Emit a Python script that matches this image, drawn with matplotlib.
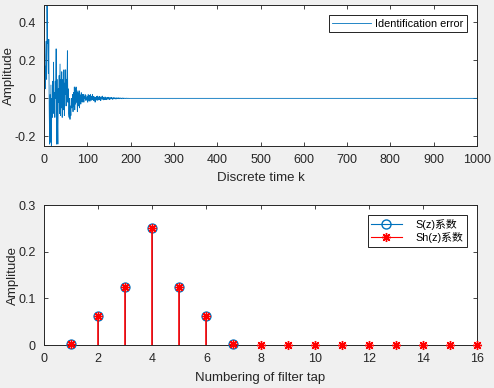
import matplotlib
matplotlib.use("Agg")
import matplotlib.pyplot as plt
import numpy as np
from matplotlib.legend_handler import HandlerLine2D
from matplotlib.lines import Line2D

plt.rcParams["font.family"] = ["Liberation Sans", "Noto Sans CJK SC", "DejaVu Sans"]

# identification error, k = 0..199; flat afterwards
err_head = [
    0.00, 0.06, 0.17, 0.05, 0.22, 0.30, 0.10, 0.49, 0.29, 0.30,
    0.13, 0.31, -0.05, -0.24, 0.02, -0.23, 0.07, -0.25, 0.00, -0.10,
    0.09, -0.08, 0.19, -0.05, 0.03, -0.10, 0.09, 0.00, 0.26, -0.24,
    0.10, -0.10, -0.24, 0.05, -0.02, 0.12, -0.08, 0.18, -0.09, 0.10,
    -0.05, 0.14, -0.10, 0.06, 0.10, -0.06, 0.15, -0.09, 0.08, 0.02,
    0.15, -0.04, 0.10, 0.02, 0.25, -0.02, 0.05, -0.08, -0.10, 0.00,
    -0.11, -0.04, -0.09, 0.00, -0.05, -0.03, 0.02, -0.07, 0.03, -0.04,
    0.06, -0.06, 0.05, -0.03, 0.06, -0.02, 0.04, -0.07, 0.03, 0.01,
    -0.04, 0.04, -0.05, 0.02, 0.00, -0.03, 0.03, 0.01, -0.02, 0.02,
    -0.01, 0.02, -0.02, 0.01, 0.00, 0.02, -0.01, 0.015, -0.01, 0.00,
    0.01, -0.02, 0.02, -0.01, 0.005, 0.015, -0.015, 0.02, 0.00, -0.01,
    0.012, -0.008, 0.02, -0.005, 0.01, -0.012, 0.005, 0.008, -0.02, 0.004,
    -0.01, 0.01, -0.005, 0.012, -0.01, 0.004, 0.008, -0.008, 0.01, -0.004,
    0.006, -0.012, 0.01, 0.002, -0.006, 0.012, -0.004, 0.006, -0.008, 0.003,
    -0.005, 0.008, -0.006, 0.004, 0.002, -0.007, 0.005, -0.003, 0.006, -0.004,
    0.003, -0.006, 0.004, 0.002, -0.004, 0.005, -0.002, 0.003, -0.005, 0.002,
    -0.003, 0.004, -0.002, 0.003, -0.001, 0.002, -0.004, 0.003, -0.002, 0.001,
    0.002, -0.002, 0.003, -0.001, 0.002, -0.002, 0.001, 0.002, -0.001, 0.001,
    -0.002, 0.001, 0.002, -0.001, 0.001, -0.001, 0.001, 0.000, -0.001, 0.001,
    0.000, 0.001, -0.001, 0.000, 0.001, 0.000, -0.001, 0.000, 0.000, 0.000,
]
err_tail = [0.0] * 801

s_taps = [1, 2, 3, 4, 5, 6, 7]
s_coef = [0.003, 0.0625, 0.125, 0.25, 0.125, 0.0625, 0.003]
sh_taps = list(range(1, 17))
sh_coef = [0.003, 0.0625, 0.125, 0.25, 0.125, 0.0625, 0.003,
           0.0, 0.0, 0.0, 0.0, 0.0, 0.0, 0.0, 0.0, 0.0]

BLUE = "#0072BD"
RED = "#FF0000"
AX_COL = "#262626"
ASTERISK = (8, 2, 0)


class EndMarkerHandler(HandlerLine2D):
    """Legend entry with the marker at the right end, like MATLAB."""

    def get_xdata(self, legend, xdescent, ydescent, width, height, fontsize):
        xdata = np.array([-xdescent, width - xdescent])
        return xdata, np.array([width - xdescent])


def style_axes(ax):
    ax.tick_params(direction="in", length=3, width=0.6, top=True, right=True,
                   labelsize=9, colors=AX_COL, pad=6)
    for sp in ax.spines.values():
        sp.set_color(AX_COL)
        sp.set_linewidth(0.7)


fig = plt.figure(figsize=(4.94, 3.88), dpi=100, facecolor="#F0F0F0")

# top: identification error
ax1 = fig.add_axes([0.0891, 0.6237, 0.8765, 0.3634])
err = np.array(err_head + err_tail)
k = np.arange(len(err))
ax1.plot(k, err, color=BLUE, lw=0.6, label="Identification error")
ax1.set_xlim(0, 1000)
ax1.set_ylim(-0.25, 0.49)
ax1.set_xticks(np.arange(0, 1001, 100))
ax1.set_yticks([-0.2, 0, 0.2, 0.4])
ax1.set_yticklabels(["-0.2", "0", "0.2", "0.4"])
ax1.set_xlabel("Discrete time k", fontsize=9.5, color=AX_COL)
ax1.set_ylabel("Amplitude", fontsize=9.5, color=AX_COL)
ax1.xaxis.set_label_coords(0.5, -0.185)
ax1.yaxis.set_label_coords(-0.066, 0.5)
style_axes(ax1)
leg1 = ax1.legend(loc="upper right", fontsize=7.8, frameon=True, fancybox=False,
                  edgecolor="black", framealpha=1, handlelength=3.6,
                  borderpad=0.3, handletextpad=0.35, borderaxespad=0.95)
leg1.get_frame().set_linewidth(0.6)

# bottom: filter coefficients
ax2 = fig.add_axes([0.0891, 0.1108, 0.8765, 0.3608])
ml, sl, bl = ax2.stem(s_taps, s_coef, linefmt="-", markerfmt="o", basefmt=" ")
plt.setp(sl, color=BLUE, linewidth=0.7, zorder=2)
plt.setp(ml, markeredgecolor=BLUE, markerfacecolor="none", markersize=6.5,
         markeredgewidth=0.9, clip_on=False, zorder=3)
ml2, sl2, bl2 = ax2.stem(sh_taps, sh_coef, linefmt="-", markerfmt=" ", basefmt=" ")
plt.setp(sl2, color=RED, linewidth=1.2, zorder=4)
ml2.set_marker(ASTERISK)
plt.setp(ml2, color=RED, markeredgecolor=RED, markersize=6.5,
         markeredgewidth=1.0, clip_on=False, zorder=5)
ax2.set_xlim(0, 16)
ax2.set_ylim(0, 0.3)
ax2.set_xticks(np.arange(0, 17, 2))
ax2.set_yticks([0, 0.1, 0.2, 0.3])
ax2.set_yticklabels(["0", "0.1", "0.2", "0.3"])
ax2.set_xlabel("Numbering of filter tap", fontsize=9.5, color=AX_COL)
ax2.set_ylabel("Amplitude", fontsize=9.5, color=AX_COL)
ax2.xaxis.set_label_coords(0.5, -0.195)
ax2.yaxis.set_label_coords(-0.058, 0.5)
style_axes(ax2)

h_s = Line2D([], [], color=BLUE, lw=0.8, marker="o", markerfacecolor="none",
             markeredgecolor=BLUE, markersize=6.5)
h_sh = Line2D([], [], color=RED, lw=0.8, marker=ASTERISK, markeredgecolor=RED,
              markersize=6.5, markeredgewidth=1.0)
hm = {h_s: EndMarkerHandler(numpoints=1), h_sh: EndMarkerHandler(numpoints=1)}
leg2 = ax2.legend([h_s, h_sh], ["S(z)系数", "Sh(z)系数"], handler_map=hm,
                  loc="upper right", fontsize=7.8, frameon=True, fancybox=False,
                  edgecolor="black", framealpha=1, handlelength=2.8,
                  borderpad=0.3, handletextpad=1.3, borderaxespad=0.95,
                  labelspacing=0.25)
leg2.get_frame().set_linewidth(0.6)

fig.savefig("out.png", dpi=100, facecolor=fig.get_facecolor())
